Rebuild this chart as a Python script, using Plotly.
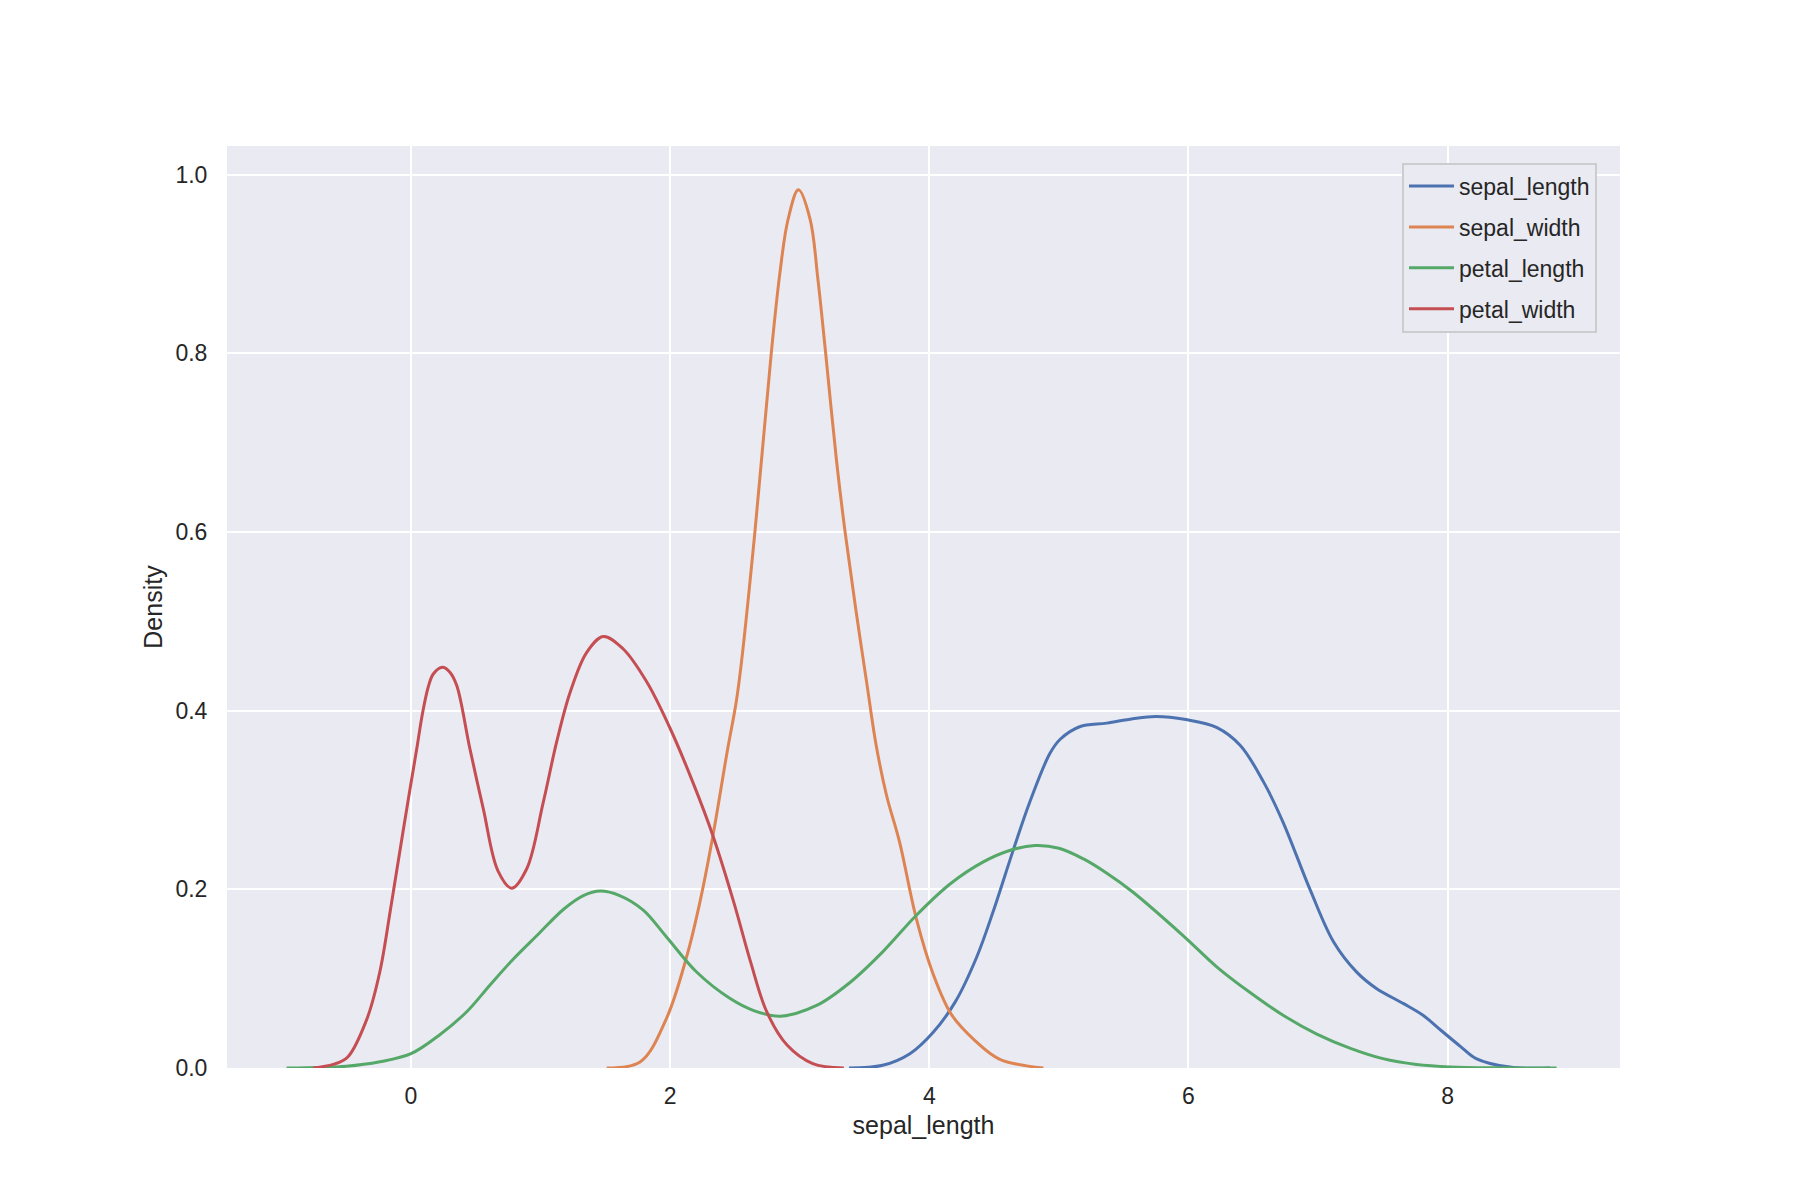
import plotly.graph_objects as go

# ---- data (KDE curves) ----
sepal_length_x = [3.38, 3.64, 3.85, 4.03, 4.20, 4.365, 4.49, 4.65, 4.776, 4.93, 5.01, 5.16, 5.37,
                  5.57, 5.75, 5.98, 6.22, 6.40, 6.58, 6.73, 6.94, 7.12, 7.30, 7.45, 7.66, 7.81, 7.95,
                  8.10, 8.22, 8.48, 8.79]
sepal_length_y = [0.0, 0.003, 0.016, 0.040, 0.074, 0.124, 0.174, 0.245, 0.298, 0.352, 0.368, 0.382,
                  0.386, 0.391, 0.3935, 0.390, 0.381, 0.361, 0.320, 0.275, 0.199, 0.141, 0.107,
                  0.089, 0.072, 0.059, 0.042, 0.024, 0.0105, 0.001, 0.0]

sepal_width_x = [1.51, 1.77, 1.97, 2.13, 2.23, 2.33, 2.44, 2.51, 2.55, 2.654, 2.78, 2.847, 2.91, 2.99,
                 3.08, 3.14, 3.20, 3.285, 3.35, 3.43, 3.52, 3.59, 3.67, 3.77, 3.90, 4.03, 4.17, 4.35,
                 4.54, 4.88]
sepal_width_y = [0.0, 0.007, 0.055, 0.126, 0.186, 0.260, 0.354, 0.410, 0.454, 0.600, 0.800, 0.890,
                 0.950, 0.983, 0.950, 0.883, 0.800, 0.678, 0.600, 0.516, 0.428, 0.361, 0.305, 0.253,
                 0.167, 0.105, 0.060, 0.031, 0.010, 0.0]

petal_length_x = [-0.96, -0.5, -0.24, 0.0, 0.22, 0.43, 0.61, 0.79, 0.97, 1.18, 1.33, 1.46, 1.61, 1.79,
                  1.97, 2.2, 2.46, 2.65, 2.85, 3.13, 3.39, 3.64, 3.9, 4.16, 4.42, 4.62, 4.815, 5.0,
                  5.19, 5.37, 5.57, 5.96, 6.22, 6.47, 6.73, 6.99, 7.25, 7.5, 7.76, 8.02, 8.4, 8.84]
petal_length_y = [0.0, 0.002, 0.007, 0.016, 0.037, 0.063, 0.093, 0.122, 0.148, 0.178, 0.193, 0.198,
                  0.193, 0.177, 0.147, 0.108, 0.078, 0.064, 0.058, 0.070, 0.096, 0.130, 0.171, 0.206,
                  0.231, 0.2435, 0.249, 0.246, 0.234, 0.218, 0.197, 0.148, 0.113, 0.085, 0.059,
                  0.038, 0.022, 0.0105, 0.004, 0.0012, 0.0002, 0.0]

petal_width_x = [-0.756, -0.6, -0.49, -0.34, -0.24, -0.16, -0.11, -0.033, 0.044, 0.09, 0.134, 0.172,
                 0.242, 0.30, 0.353, 0.455, 0.558, 0.67, 0.777, 0.893, 1.02, 1.124, 1.227, 1.355,
                 1.484, 1.638, 1.82, 2.0, 2.18, 2.33, 2.49, 2.62, 2.745, 2.9, 3.1, 3.34]
petal_width_y = [0.0, 0.004, 0.012, 0.055, 0.108, 0.176, 0.221, 0.290, 0.357, 0.398, 0.427, 0.441,
                 0.4485, 0.443, 0.428, 0.357, 0.290, 0.221, 0.2013, 0.223, 0.297, 0.365, 0.420,
                 0.465, 0.483, 0.469, 0.432, 0.380, 0.318, 0.260, 0.186, 0.119, 0.063, 0.026,
                 0.005, 0.0]

series_names = ["sepal_length", "sepal_width", "petal_length", "petal_width"]
series_x = [sepal_length_x, sepal_width_x, petal_length_x, petal_width_x]
series_y = [sepal_length_y, sepal_width_y, petal_length_y, petal_width_y]
colors = ["#4C72B0", "#DD8452", "#55A868", "#C44E52"]

x_ticks = [0, 2, 4, 6, 8]
y_ticks = [0.0, 0.2, 0.4, 0.6, 0.8, 1.0]

FONT = "Liberation Sans, Arial, sans-serif"
TXT = "#262626"

fig = go.Figure()
for name, xs, ys, c in zip(series_names, series_x, series_y, colors):
    fig.add_trace(go.Scatter(
        x=xs, y=ys, mode="lines", name=name, legendgroup=name,
        line=dict(color=c, width=3, shape="spline", smoothing=1.0),
    ))

fig.update_layout(
    width=1800, height=1200,
    paper_bgcolor="white", plot_bgcolor="#EAEAF2",
    margin=dict(l=219, r=188, t=138, b=140),
    font=dict(family=FONT, color=TXT, size=23),
    showlegend=True,
    legend=dict(
        x=0.9835, y=0.982, xanchor="right", yanchor="top",
        bgcolor="#EAEAF2", bordercolor="#CCCCCC", borderwidth=2,
        font=dict(size=23, color=TXT), tracegroupgap=8, itemwidth=45,
    ),
    xaxis=dict(
        range=[-1.42, 9.33], tickvals=x_ticks, ticktext=[str(v) for v in x_ticks],
        showgrid=True, gridcolor="white", gridwidth=2, zeroline=False,
        showline=False, ticks="outside", ticklen=7, tickcolor="rgba(0,0,0,0)",
        tickfont=dict(size=23, color=TXT),
        title=dict(text="sepal_length", font=dict(size=25, color=TXT), standoff=8),
    ),
    yaxis=dict(
        range=[0, 1.032], tickvals=y_ticks, ticktext=[f"{v:.1f}" for v in y_ticks],
        showgrid=True, gridcolor="white", gridwidth=2, zeroline=False,
        showline=False, ticks="outside", ticklen=14, tickcolor="rgba(0,0,0,0)",
        tickfont=dict(size=23, color=TXT),
        title=dict(text="Density", font=dict(size=25, color=TXT), standoff=5),
    ),
)

fig.write_html("out.html")
